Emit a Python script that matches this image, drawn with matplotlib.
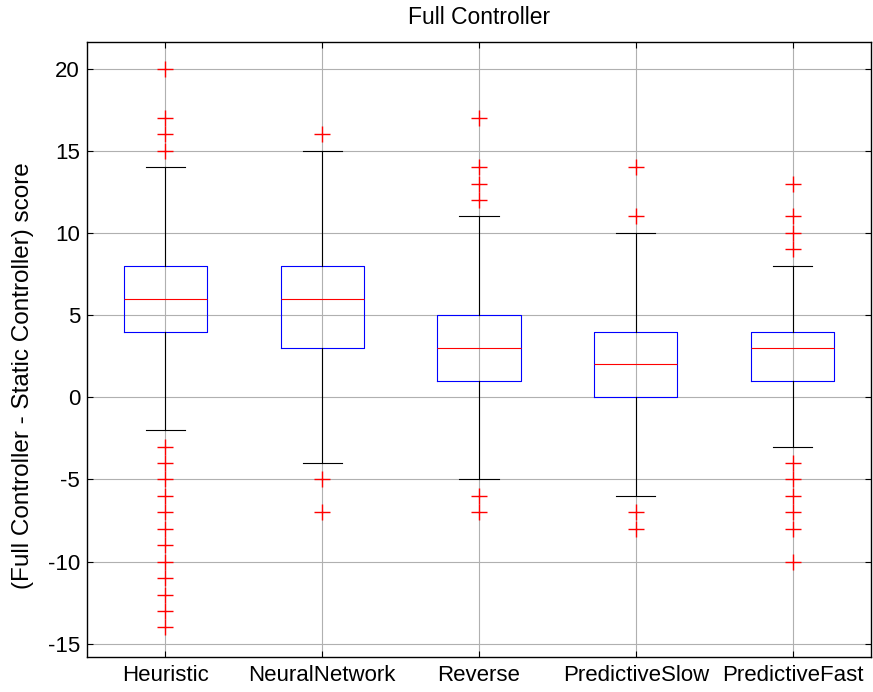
import matplotlib.pyplot as plt

plt.rcParams['font.family'] = ['Liberation Sans', 'DejaVu Sans']
plt.rcParams['axes.unicode_minus'] = False

names = ['Heuristic', 'NeuralNetwork', 'Reverse', 'PredictiveSlow', 'PredictiveFast']
q1 = [4, 3, 1, 0, 1]
med = [6, 6, 3, 2, 3]
q3 = [8, 8, 5, 4, 4]
whislo = [-2, -4, -5, -6, -3]
whishi = [14, 15, 11, 10, 8]
outliers = [
    [15, 16, 17, 20, -3, -4, -5, -6, -7, -8, -9, -10, -11, -12, -13, -14],
    [16, -5, -7],
    [12, 13, 14, 17, -6, -7],
    [11, 14, -7, -8],
    [9, 10, 11, 13, -4, -5, -6, -7, -8, -10],
]

stats = []
for i in range(len(names)):
    stats.append(dict(label=names[i], q1=q1[i], med=med[i], q3=q3[i],
                      whislo=whislo[i], whishi=whishi[i], fliers=outliers[i]))

fig = plt.figure(figsize=(8.73, 6.92), dpi=100)
ax = fig.add_axes([0.0997, 0.0506, 0.898, 0.8884])

ax.bxp(stats, widths=0.53, showfliers=True,
       boxprops=dict(color='blue', linewidth=0.8),
       medianprops=dict(color='red', linewidth=0.8),
       whiskerprops=dict(color='black', linewidth=0.8),
       capprops=dict(color='black', linewidth=0.8),
       capwidths=0.25,
       flierprops=dict(marker='+', markeredgecolor='red', markersize=11,
                       markeredgewidth=1.0, linestyle='none'))

ax.set_xlim(0.5, 5.5)
ax.set_ylim(-15.8, 21.6)
ax.set_yticks(range(-15, 21, 5))
ax.set_xticks(range(1, 6))
ax.set_xticklabels(names)
ax.grid(True, color='#b0b0b0', linewidth=0.8, zorder=0)
ax.set_axisbelow(True)
ax.tick_params(direction='in', top=True, right=True, labelsize=16, length=4)
ax.tick_params(axis='x', pad=6)
ax.tick_params(axis='y', pad=5)
for s in ax.spines.values():
    s.set_linewidth(1.0)

ax.set_title('Full Controller', fontsize=16.5, pad=13)
ax.set_ylabel('(Full Controller - Static Controller) score', fontsize=17.5)
ax.yaxis.set_label_coords(-0.068, 0.458)

fig.savefig('out.png', dpi=100)
